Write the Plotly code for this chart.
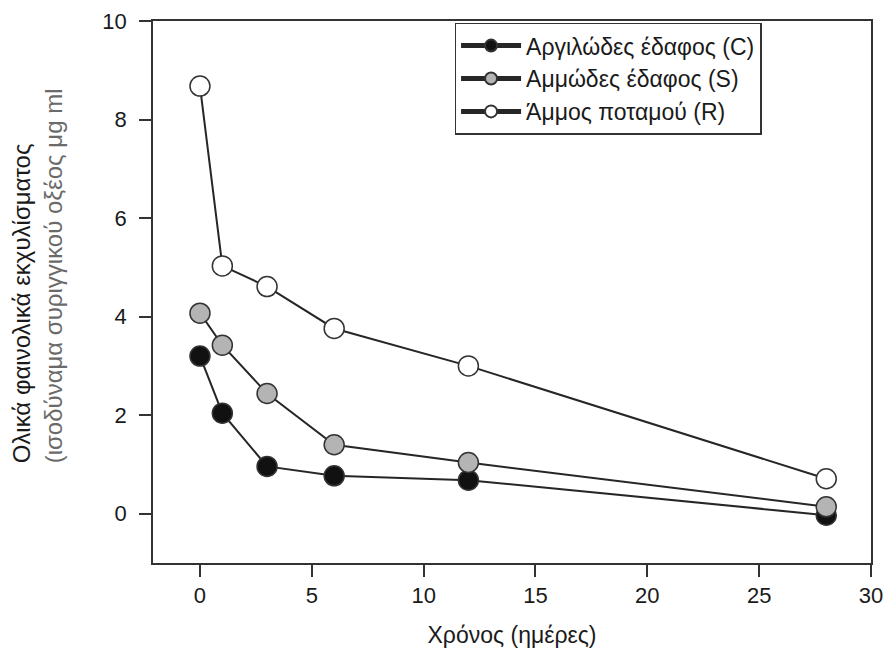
import plotly.graph_objects as go

days = [0, 1, 3, 6, 12, 28]
clay_C = [3.2, 2.04, 0.96, 0.77, 0.68, -0.03]
sandy_S = [4.07, 3.42, 2.44, 1.4, 1.04, 0.14]
river_R = [8.68, 5.03, 4.61, 3.76, 3.0, 0.71]

names = ["Αργιλώδες έδαφος (C)", "Αμμώδες έδαφος (S)", "Άμμος ποταμού (R)"]
fills = ["#111111", "#b4b4b4", "#ffffff"]
series = [clay_C, sandy_S, river_R]

x_ticks = [0, 5, 10, 15, 20, 25, 30]
y_ticks = [0, 2, 4, 6, 8, 10]

FONT = "Liberation Sans, Arial, sans-serif"
INK = "#262626"

fig = go.Figure()
for name, fill, vals in zip(names, fills, series):
    fig.add_trace(go.Scatter(
        x=days, y=vals, name=name, mode="lines+markers",
        line=dict(color=INK, width=2),
        marker=dict(size=20, color=fill, line=dict(color="#333333", width=1.5)),
    ))

fig.update_layout(
    width=883, height=644,
    margin=dict(l=145, r=20, t=13, b=89),
    paper_bgcolor="white", plot_bgcolor="white",
    font=dict(family=FONT, size=21, color="#1a1a1a"),
    showlegend=True,
    legend=dict(
        x=0.42, y=0.997, xanchor="left", yanchor="top",
        bgcolor="white", bordercolor="#333333", borderwidth=1.5,
        font=dict(family=FONT, size=23, color="#1a1a1a"),
        itemwidth=60, itemsizing="constant",
        traceorder="normal",
    ),
    xaxis=dict(
        range=[-2.1, 30], tickvals=x_ticks, ticktext=[str(v) for v in x_ticks],
        showline=True, mirror=True, linecolor="#333333", linewidth=1.5,
        ticks="outside", ticklen=12, tickwidth=1.5, tickcolor="#333333",
        showgrid=False, zeroline=False, automargin=False,
        ticklabeloverflow="allow",
        tickfont=dict(size=22),
        title=dict(text="Χρόνος (ημέρες)", font=dict(size=23), standoff=20),
    ),
    yaxis=dict(
        range=[-1, 10], tickvals=y_ticks, ticktext=[str(v) for v in y_ticks],
        showline=True, mirror=True, linecolor="#333333", linewidth=1.5,
        ticks="outside", ticklen=12, tickwidth=1.5, tickcolor="#333333",
        showgrid=False, zeroline=False, automargin=False,
        ticklabeloverflow="allow", ticklabelstandoff=8,
        tickfont=dict(size=22),
    ),
)

fig.add_annotation(
    xref="paper", yref="paper", x=-0.161, y=0.18,
    xanchor="center", yanchor="bottom", textangle=-90, align="left",
    showarrow=False,
    text="Ολικά φαινολικά εκχυλίσματος<br><span style='color:#6a6a6a'>(ισοδύναμα συριγγικού οξέος μg ml</span>",
    font=dict(family=FONT, size=24, color="#1a1a1a"),
)

fig.write_html("out.html")
